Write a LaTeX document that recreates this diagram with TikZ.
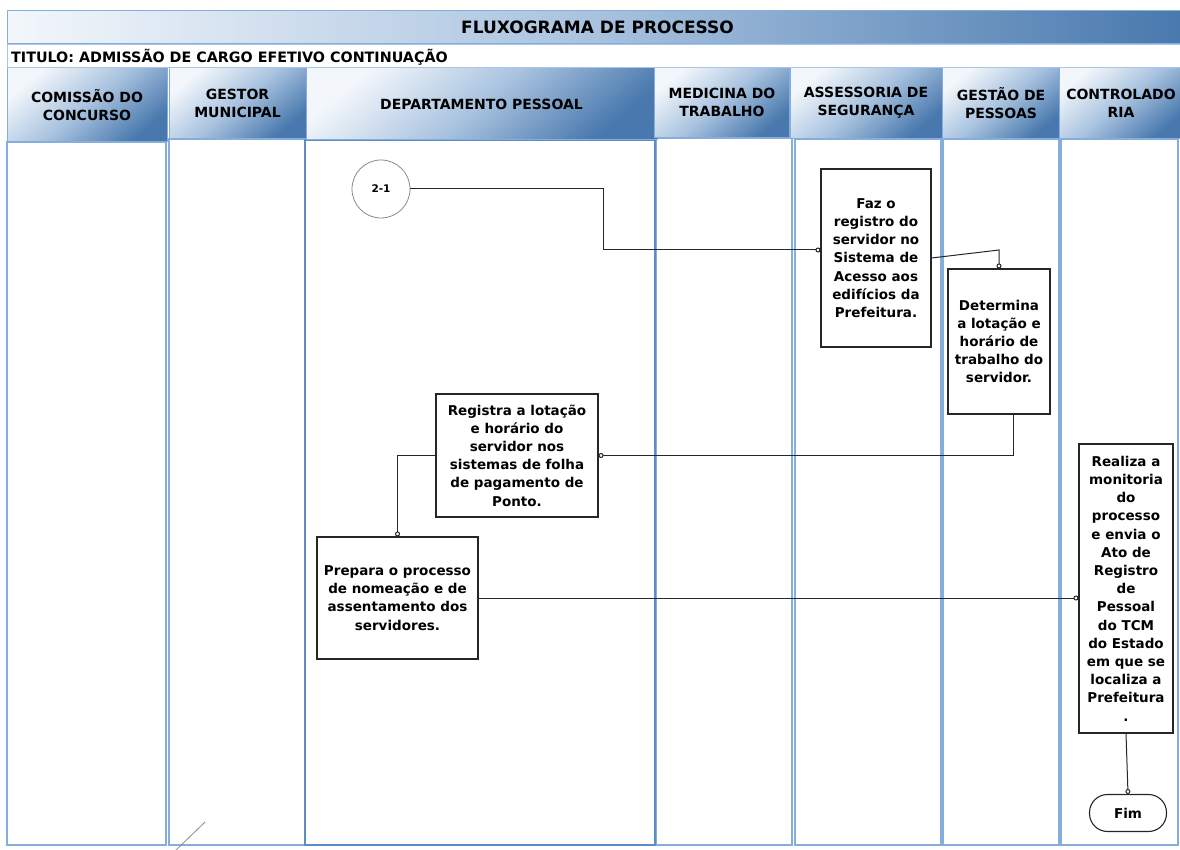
\documentclass[tikz,border=0pt]{standalone}
\usepackage{fontspec}
\setmainfont{DejaVu Sans}
\usetikzlibrary{arrows.meta}

\definecolor{laneblue}{HTML}{86AEDC}
\definecolor{lanedark}{HTML}{5C8DC6}
\definecolor{hlight}{HTML}{F3F7FB}
\definecolor{hmid}{HTML}{A8C2DF}
\definecolor{hdark}{HTML}{4878AD}
\definecolor{ink}{HTML}{262626}
\definecolor{ringgray}{HTML}{8A8A8A}

\begin{document}
\begin{tikzpicture}[x=1pt,y=-1pt,
  lane/.style={draw=laneblue,line width=1.2pt},
  lanemain/.style={draw=lanedark,line width=2pt},
  lanehead/.style={draw=laneblue,line width=1pt,inner sep=0pt,
    top color=hlight,bottom color=hdark,middle color=hmid,shading angle=40,
    align=center,font=\bfseries\fontsize{14}{18}\selectfont},
  task/.style={draw=ink,line width=1.1pt,fill=white,align=center,inner sep=0pt,
    font=\bfseries\fontsize{13.5}{18.2}\selectfont},
  flow/.style={draw=ink,line width=1pt,
    -{Circle[open,length=5pt,width=5pt,fill=white]}},
]
\useasboundingbox (0,0) rectangle (1180,850);
\begin{scope}
\clip (0,0) rectangle (1180,850);

% lane bodies
\path[lane] (7,142) rectangle (166,845);
\path[lane] (169,139) rectangle (305,845);
\path[lane] (656,138) rectangle (792,845);
\path[lane] (795,139) rectangle (941,845);
\path[lane] (943,139) rectangle (1059,845);
\path[lane] (1061,139) rectangle (1178,845);
\path[lanemain] (305,140) rectangle (655,845);

% lane headers
\node[lanehead,minimum width=160pt,minimum height=74pt] (h1) at (87,105) {COMISSÃO DO\\CONCURSO};
\node[lanehead,minimum width=137pt,minimum height=71pt] (h2) at (237.5,103.5) {GESTOR\\MUNICIPAL};
\node[lanehead,minimum width=351pt,minimum height=72pt] (h3) at (481.5,104) {DEPARTAMENTO PESSOAL};
\node[lanehead,minimum width=152pt,minimum height=72pt] (h5) at (866,103) {ASSESSORIA DE\\SEGURANÇA};
\node[lanehead,minimum width=118pt,minimum height=72pt] (h6) at (1001,103) {GESTÃO DE\\PESSOAS};
\node[lanehead,minimum width=124pt,minimum height=72pt] (h7) at (1121,103) {CONTROLADO\\RIA};
\node[lanehead,minimum width=135pt,minimum height=72pt] (h4) at (722,102) {MEDICINA DO\\TRABALHO};

% title rows
\node[draw=laneblue,line width=1pt,inner sep=0pt,minimum width=1180pt,minimum height=33pt,
  left color=hlight,right color=hdark,middle color=hmid,
  font=\bfseries\fontsize{17}{20}\selectfont] (top) at (597.5,27.5) {FLUXOGRAMA DE PROCESSO};
\path[draw=laneblue!70,line width=1pt,fill=white] (7,45) rectangle (1190,68);
\node[anchor=west,inner sep=0pt,font=\bfseries\fontsize{14.3}{16}\selectfont] (titulo) at (11,57)
  {TITULO: ADMISSÃO DE CARGO EFETIVO CONTINUAÇÃO};

% flow elements
\node[circle,draw=ringgray,line width=0.8pt,minimum size=58pt,inner sep=0pt,
  font=\bfseries\fontsize{10.5}{12}\selectfont] (c21) at (381,189) {2-1};

\node[task,minimum width=110pt,minimum height=178pt] (b1) at (876,258)
  {Faz o\\registro do\\servidor no\\Sistema de\\Acesso aos\\edifícios da\\Prefeitura.};
\node[task,minimum width=102pt,minimum height=145pt] (b2) at (999,341.5)
  {Determina\\a lotação e\\horário de\\trabalho do\\servidor.};
\node[task,minimum width=162pt,minimum height=123pt] (b3) at (517,455.5)
  {Registra a lotação\\e horário do\\servidor nos\\sistemas de folha\\de pagamento de\\Ponto.};
\node[task,minimum width=161pt,minimum height=122pt] (b4) at (397.5,598)
  {Prepara o processo\\de nomeação e de\\assentamento dos\\servidores.};
\node[task,minimum width=94pt,minimum height=289pt] (b5) at (1126,588.5)
  {Realiza a\\monitoria\\do\\processo\\e envia o\\Ato de\\Registro\\de\\Pessoal\\do TCM\\do Estado\\em que se\\localiza a\\Prefeitura\\.};
\node[task,rounded corners=18pt,minimum width=77pt,minimum height=37pt] (fim) at (1128,813) {Fim};

% connectors
\coordinate (k1) at (603,250);
\draw[flow] (c21.east) -| (k1) -- (k1 -| b1.west);
\draw[flow] (b1.east) -- (b2.north |- k1) -- (b2.north);
\draw[flow] ([xshift=14pt]b2.south) |- (b3.east);
\draw[flow] (b3.west) -| (b4.north);
\draw[flow] (b4.east) -- (b4.east -| b5.west);
\draw[flow] (b5.south) -- (fim.north);

% stray stroke at the foot of the second lane
\draw[ringgray,line width=0.8pt] (205,822) -- (174,852);
\end{scope}
\end{tikzpicture}
\end{document}
